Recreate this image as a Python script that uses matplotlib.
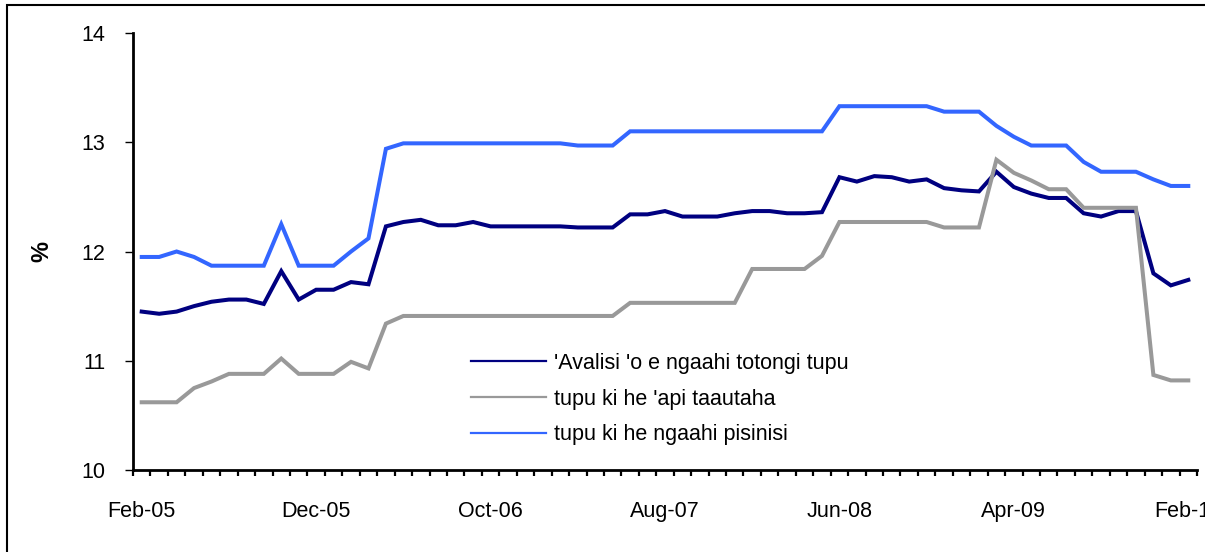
import numpy as np
import matplotlib
matplotlib.use("Agg")
import matplotlib.pyplot as plt
from matplotlib.patches import Rectangle

plt.rcParams["font.family"] = ["Liberation Sans", "DejaVu Sans"]

# monthly, Feb-05 .. Feb-10
months = ["Feb-05", "Dec-05", "Oct-06", "Aug-07", "Jun-08", "Apr-09", "Feb-10"]

avalisi = [11.45, 11.43, 11.45, 11.50, 11.54, 11.56, 11.56, 11.52, 11.82, 11.56,
           11.65, 11.65, 11.72, 11.70, 12.23, 12.27, 12.29, 12.24, 12.24, 12.27,
           12.23, 12.23, 12.23, 12.23, 12.23, 12.22, 12.22, 12.22, 12.34, 12.34,
           12.37, 12.32, 12.32, 12.32, 12.35, 12.37, 12.37, 12.35, 12.35, 12.36,
           12.68, 12.64, 12.69, 12.68, 12.64, 12.66, 12.58, 12.56, 12.55, 12.73,
           12.59, 12.53, 12.49, 12.49, 12.35, 12.32, 12.37, 12.37, 11.80, 11.69,
           11.74]

api_taautaha = [10.62, 10.62, 10.62, 10.75, 10.81, 10.88, 10.88, 10.88, 11.02, 10.88,
                10.88, 10.88, 10.99, 10.93, 11.34, 11.41, 11.41, 11.41, 11.41, 11.41,
                11.41, 11.41, 11.41, 11.41, 11.41, 11.41, 11.41, 11.41, 11.53, 11.53,
                11.53, 11.53, 11.53, 11.53, 11.53, 11.84, 11.84, 11.84, 11.84, 11.96,
                12.27, 12.27, 12.27, 12.27, 12.27, 12.27, 12.22, 12.22, 12.22, 12.84,
                12.72, 12.65, 12.57, 12.57, 12.40, 12.40, 12.40, 12.40, 10.87, 10.82,
                10.82]

pisinisi = [11.95, 11.95, 12.00, 11.95, 11.87, 11.87, 11.87, 11.87, 12.25, 11.87,
            11.87, 11.87, 12.00, 12.12, 12.94, 12.99, 12.99, 12.99, 12.99, 12.99,
            12.99, 12.99, 12.99, 12.99, 12.99, 12.97, 12.97, 12.97, 13.10, 13.10,
            13.10, 13.10, 13.10, 13.10, 13.10, 13.10, 13.10, 13.10, 13.10, 13.10,
            13.33, 13.33, 13.33, 13.33, 13.33, 13.33, 13.28, 13.28, 13.28, 13.15,
            13.05, 12.97, 12.97, 12.97, 12.82, 12.73, 12.73, 12.73, 12.66, 12.60,
            12.60]

labels = ["'Avalisi 'o e ngaahi totongi tupu",
          "tupu ki he 'api taautaha",
          "tupu ki he ngaahi pisinisi"]
colors = ["#000080", "#999999", "#3366FF"]

W, H = 1205, 552
fig = plt.figure(figsize=(W / 100, H / 100), dpi=100)
ax = fig.add_axes([133 / W, (H - 470) / H, 1064 / W, 437 / H])

x = np.arange(len(avalisi))
for y, c, lab in zip([avalisi, api_taautaha, pisinisi], colors, labels):
    ax.plot(x, y, color=c, lw=2.9, label=lab, solid_joinstyle="miter")

ax.set_xlim(-0.5, len(x) - 0.5)
ax.set_ylim(10, 14)
ax.set_yticks([10, 11, 12, 13, 14])
ax.set_xticks(np.arange(0, len(x), 10))
ax.set_xticklabels(months)
ax.set_xticks(np.arange(-0.5, len(x), 1), minor=True)
ax.tick_params(axis="x", which="major", length=0, pad=22, labelsize=15.5)
ax.tick_params(axis="x", which="minor", length=4, width=1.6, direction="out")
ax.tick_params(axis="y", length=6, width=1.0, direction="out", pad=14, labelsize=15.5)
ax.set_ylabel("%", fontsize=17, fontweight="bold", labelpad=20)

for s in ["top", "right"]:
    ax.spines[s].set_visible(False)
for s in ["left", "bottom"]:
    ax.spines[s].set_linewidth(2.0)

leg = ax.legend(loc="center left", bbox_to_anchor=(471 / W, 1 - 399 / H),
                bbox_transform=fig.transFigure, frameon=False, fontsize=15.5,
                handlelength=3.5, handletextpad=0.35, labelspacing=0.68,
                borderpad=0, borderaxespad=0)
for ln in leg.get_lines():
    ln.set_linewidth(1.6)

# outer chart frame
fig.add_artist(Rectangle((7 / W, -0.1), 1.2, (H - 5) / H + 0.1,
                         transform=fig.transFigure, fill=False,
                         edgecolor="black", lw=1.5))

fig.savefig("out.png", dpi=100)
